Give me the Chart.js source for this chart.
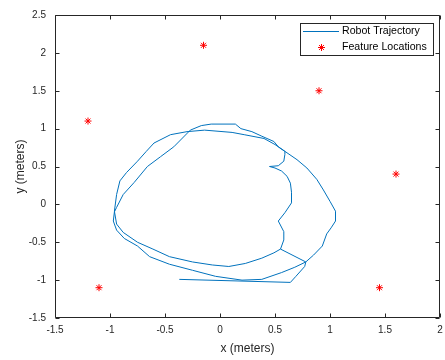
<!DOCTYPE html>
<html>
<head>
<meta charset="utf-8">
<script src="https://cdn.jsdelivr.net/npm/chart.js@4.4.1/dist/chart.umd.min.js"></script>
<style>
  html, body { margin: 0; padding: 0; background: #fff; }
  #wrap { width: 445px; height: 360px; }
</style>
</head>
<body>
<div id="wrap"><canvas id="plot" width="445" height="360"></canvas></div>
<script>
// robot path (x, y in meters), in driving order
const trajX = [
  -0.37, 0.64, 0.69, 0.77, 0.78, 0.85, 0.93, 0.97, 1.01, 1.05,
  1.05, 1.00, 0.94, 0.88, 0.79, 0.70, 0.59, 0.50, 0.40, 0.22,
  0.11, -0.14, -0.30, -0.45, -0.60, -0.67, -0.75, -0.85, -0.91, -0.94,
  -0.96, -0.94, -0.88, -0.75, -0.61, -0.46, -0.25, -0.07, 0.08, 0.23,
  0.38, 0.49, 0.55, 0.58, 0.58, 0.53, 0.59, 0.65, 0.65, 0.64,
  0.61, 0.56, 0.50, 0.45, 0.53, 0.58, 0.59, 0.59, 0.53, 0.49,
  0.38, 0.29, 0.19, 0.14, -0.08, -0.17, -0.27, -0.42, -0.54, -0.66,
  -0.78, -0.88, -0.94, -0.96, -0.97, -0.94, -0.87, -0.75, -0.64, -0.46,
  -0.25, -0.04, 0.20, 0.38, 0.56, 0.68, 0.78, 0.55
];
const trajY = [
  -0.99, -1.03, -0.95, -0.82, -0.76, -0.67, -0.55, -0.39, -0.31, -0.22,
  -0.09, 0.04, 0.19, 0.33, 0.48, 0.59, 0.70, 0.79, 0.87, 0.92,
  0.95, 0.98, 0.96, 0.92, 0.81, 0.70, 0.57, 0.42, 0.31, 0.13,
  -0.09, -0.26, -0.37, -0.50, -0.59, -0.69, -0.76, -0.80, -0.82, -0.78,
  -0.71, -0.64, -0.59, -0.47, -0.36, -0.22, -0.11, 0.02, 0.16, 0.28,
  0.37, 0.44, 0.48, 0.50, 0.51, 0.57, 0.66, 0.70, 0.76, 0.83,
  0.90, 0.96, 1.00, 1.06, 1.06, 1.04, 0.98, 0.76, 0.63, 0.50,
  0.29, 0.13, -0.04, -0.10, -0.22, -0.34, -0.45, -0.55, -0.69, -0.79,
  -0.87, -0.95, -1.00, -0.99, -0.90, -0.83, -0.76, -0.59
];

// landmark positions
const featX = [-0.15, 0.90, -1.20, 1.60, -1.10, 1.45];
const featY = [2.10, 1.50, 1.10, 0.40, -1.10, -1.10];

const xTicks = [-1.5, -1, -0.5, 0, 0.5, 1, 1.5, 2];
const yTicks = [-1.5, -1, -0.5, 0, 0.5, 1, 1.5, 2, 2.5];
const seriesNames = ['Robot Trajectory', 'Feature Locations'];

const AXIS_COLOR = '#262626';
const LINE_COLOR = '#0072BD';
const MARK_COLOR = '#FF0000';
const FONT = '"Liberation Sans", Arial, Helvetica, sans-serif';

function starAt(ctx, x, y, r) {
  ctx.beginPath();
  for (let k = 0; k < 4; k++) {
    const a = k * Math.PI / 4;
    ctx.moveTo(x - r * Math.cos(a), y - r * Math.sin(a));
    ctx.lineTo(x + r * Math.cos(a), y + r * Math.sin(a));
  }
  ctx.stroke();
}

// box round the plot, inward ticks on all sides, and the legend
const boxAndLegend = {
  id: 'boxAndLegend',
  afterDraw(chart) {
    const { ctx, chartArea: a, scales } = chart;
    const L = Math.round(a.left) + 0.5, R = Math.round(a.right) - 0.5;
    const T = Math.round(a.top) + 0.5, B = Math.round(a.bottom) - 0.5;
    const tl = 4;
    ctx.save();
    ctx.strokeStyle = AXIS_COLOR;
    ctx.lineWidth = 1;
    ctx.beginPath();
    ctx.rect(L, T, R - L, B - T);
    for (const v of xTicks) {
      const px = Math.round(scales.x.getPixelForValue(v)) + 0.5;
      ctx.moveTo(px, B); ctx.lineTo(px, B - tl);
      ctx.moveTo(px, T); ctx.lineTo(px, T + tl);
    }
    for (const v of yTicks) {
      const py = Math.round(scales.y.getPixelForValue(v)) + 0.5;
      ctx.moveTo(L, py); ctx.lineTo(L + tl, py);
      ctx.moveTo(R, py); ctx.lineTo(R - tl, py);
    }
    ctx.stroke();

    // legend
    const bx = 300.5, by = 23.5, bw = 133, bh = 32;
    ctx.fillStyle = '#fff';
    ctx.fillRect(bx, by, bw, bh);
    ctx.strokeRect(bx, by, bw, bh);
    const row1 = 31.5, row2 = 47.5;
    ctx.strokeStyle = LINE_COLOR;
    ctx.beginPath();
    ctx.moveTo(303, row1); ctx.lineTo(339, row1);
    ctx.stroke();
    ctx.strokeStyle = MARK_COLOR;
    starAt(ctx, 321.5, row2, 3.5);
    ctx.fillStyle = '#000';
    ctx.font = '10.6px ' + FONT;
    ctx.textBaseline = 'middle';
    ctx.textAlign = 'left';
    ctx.fillText(seriesNames[0], 342, row1);
    ctx.fillText(seriesNames[1], 342, row2);
    ctx.restore();
  }
};

new Chart(document.getElementById('plot'), {
  type: 'scatter',
  data: {
    datasets: [
      {
        label: seriesNames[0],
        data: trajX.map((x, i) => ({ x, y: trajY[i] })),
        showLine: true,
        borderColor: LINE_COLOR,
        borderWidth: 1,
        pointRadius: 0,
        tension: 0,
        fill: false
      },
      {
        label: seriesNames[1],
        data: featX.map((x, i) => ({ x, y: featY[i] })),
        showLine: false,
        pointStyle: 'star',
        pointRadius: 3.5,
        borderColor: MARK_COLOR,
        backgroundColor: MARK_COLOR,
        borderWidth: 1
      }
    ]
  },
  options: {
    responsive: false,
    animation: false,
    devicePixelRatio: 1,
    events: [],
    layout: { padding: { left: 0, right: 3, top: 15, bottom: 0 } },
    plugins: {
      legend: { display: false },
      tooltip: { enabled: false }
    },
    scales: {
      x: {
        type: 'linear',
        min: -1.5,
        max: 2,
        afterBuildTicks: (s) => { s.ticks = xTicks.map((value) => ({ value })); },
        afterFit: (s) => { s.height = 42; s.paddingLeft = 0; s.paddingRight = 0; },
        grid: { display: false, drawTicks: false },
        border: { display: false },
        ticks: {
          padding: 6,
          color: AXIS_COLOR,
          font: { family: FONT, size: 10 },
          maxRotation: 0,
          callback: (v) => String(v)
        },
        title: {
          display: true,
          text: 'x (meters)',
          color: AXIS_COLOR,
          font: { family: FONT, size: 12 },
          padding: { top: 0, bottom: 4 }
        }
      },
      y: {
        type: 'linear',
        min: -1.5,
        max: 2.5,
        afterBuildTicks: (s) => { s.ticks = yTicks.map((value) => ({ value })); },
        afterFit: (s) => { s.width = 55; s.paddingTop = 0; s.paddingBottom = 0; },
        grid: { display: false, drawTicks: false },
        border: { display: false },
        ticks: {
          padding: 9,
          color: AXIS_COLOR,
          font: { family: FONT, size: 10 },
          callback: (v) => String(v)
        },
        title: {
          display: true,
          text: 'y (meters)',
          color: AXIS_COLOR,
          font: { family: FONT, size: 12 },
          padding: { top: 13, bottom: 0 }
        }
      }
    }
  },
  plugins: [boxAndLegend]
});
</script>
</body>
</html>
